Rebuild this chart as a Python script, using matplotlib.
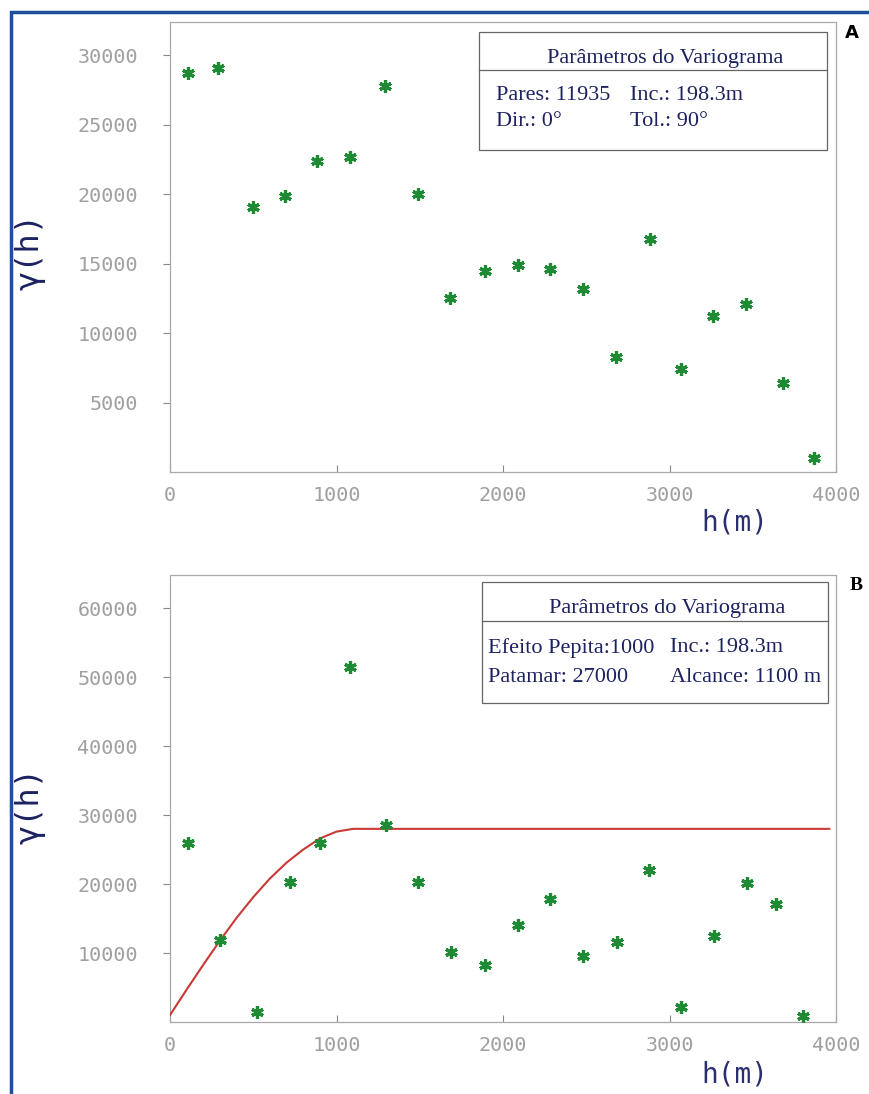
import matplotlib.pyplot as plt
from matplotlib.patches import Rectangle
from matplotlib.lines import Line2D

# experimental variogram, panel A (lag h in m, gamma)
lag_a = [110, 290, 500, 690, 880, 1080, 1290, 1490, 1680, 1890,
         2090, 2280, 2480, 2680, 2880, 3070, 3260, 3460, 3680, 3870]
gamma_a = [28700, 29100, 19100, 19900, 22400, 22700, 27800, 20000, 12500, 14500,
           14900, 14600, 13200, 8300, 16800, 7400, 11200, 12100, 6400, 1000]

# experimental variogram, panel B
lag_b = [110, 300, 520, 720, 900, 1080, 1295, 1490, 1685, 1890,
         2090, 2285, 2480, 2685, 2875, 3070, 3265, 3465, 3640, 3800]
gamma_b = [26000, 11900, 1400, 20300, 25900, 51500, 28600, 20300, 10100, 8200,
           14100, 17800, 9500, 11600, 22100, 2200, 12500, 20100, 17100, 800]

# fitted model curve
model_h = [0, 100, 200, 300, 400, 500, 600, 700, 800, 900, 1000, 1100, 3960]
model_gamma = [1000, 4700, 8300, 11800, 15100, 18100, 20800, 23100, 25000, 26600,
               27600, 28000, 28000]

box_a = [("Pares: 11935", "Inc.: 198.3m"), ("Dir.: 0°", "Tol.: 90°")]
box_b = [("Efeito Pepita:1000", "Inc.: 198.3m"), ("Patamar: 27000", "Alcance: 1100 m")]

xticks = [0, 1000, 2000, 3000, 4000]
yticks_a = [5000, 10000, 15000, 20000, 25000, 30000]
yticks_b = [10000, 20000, 30000, 40000, 50000, 60000]

W, H = 869, 1094
NAVY = "#1c2160"
TICK_GRAY = "#a0a0a0"
GREEN = "#1f8a34"
RED = "#c83a36"


def px(x, y):
    # pixel position -> figure fraction
    return x / W, 1 - y / H


def setup_axes(ax, ymax, yticks):
    ax.set_xlim(0, 4000)
    ax.set_ylim(0, ymax)
    ax.set_xticks(xticks)
    ax.set_yticks(yticks)
    ax.set_xticklabels([str(t) for t in xticks])
    ax.set_yticklabels([str(t) for t in yticks])
    for s in ax.spines.values():
        s.set_color("#a8a8a8")
        s.set_linewidth(0.9)
        s.set_linestyle((0, (1, 1)))
    ax.tick_params(axis="y", direction="out", length=5, width=0.8, color="#888888",
                   pad=18, labelsize=14.5, labelcolor=TICK_GRAY)
    ax.tick_params(axis="x", direction="in", length=5, width=0.8, color="#888888",
                   pad=10, labelsize=14.5, labelcolor=TICK_GRAY)
    for lbl in ax.get_xticklabels() + ax.get_yticklabels():
        lbl.set_family("DejaVu Sans Mono")


def param_box(fig, x0, y0, x1, y1, div_y, rows, text_x, col2_x, row_ys, head_y):
    fx0, fy0 = px(x0, y1)
    fx1, fy1 = px(x1, y0)
    fig.add_artist(Rectangle((fx0, fy0), fx1 - fx0, fy1 - fy0, transform=fig.transFigure,
                             facecolor="white", edgecolor="#666666", lw=0.9, zorder=5))
    dx0, dy = px(x0, div_y)
    dx1, _ = px(x1, div_y)
    fig.add_artist(Line2D([dx0, dx1], [dy, dy], transform=fig.transFigure,
                          color="#666666", lw=0.9, zorder=6))
    hx, hy = px((x0 + x1) / 2 + 12, head_y)
    fig.text(hx, hy, "Parâmetros do Variograma", ha="center", va="center",
             family="Liberation Serif", fontsize=16, color=NAVY, zorder=7)
    for (left, right), ry in zip(rows, row_ys):
        lx, ly = px(text_x, ry)
        fig.text(lx, ly, left, ha="left", va="center", family="Liberation Serif",
                 fontsize=16, color=NAVY, zorder=7)
        rx, _ = px(col2_x, ry)
        fig.text(rx, ly, right, ha="left", va="center", family="Liberation Serif",
                 fontsize=16, color=NAVY, zorder=7)


fig = plt.figure(figsize=(W / 100, H / 100), dpi=100)
fig.patch.set_facecolor("white")

# blue outer frame (top and left edges visible)
fig.add_artist(Rectangle((11 / W, -0.02), 1.05, 1 - 12 / H + 0.02, transform=fig.transFigure,
                         facecolor="none", edgecolor="#1d4f9a", lw=2.5))

ax_a = fig.add_axes([170 / W, 1 - 472 / H, 666 / W, 450 / H])
ax_b = fig.add_axes([170 / W, 1 - 1022 / H, 666 / W, 447 / H])

marker = dict(marker=(6, 2, 0), linestyle="none", markersize=9, mew=2.3,
              color=GREEN, zorder=4)

ax_a.plot(lag_a, gamma_a, **marker)
setup_axes(ax_a, 32400, yticks_a)

ax_b.plot(model_h, model_gamma, color=RED, lw=1.5, zorder=3)
ax_b.plot(lag_b, gamma_b, **marker)
setup_axes(ax_b, 64800, yticks_b)

# axis titles
for y_lab, y_h in [(252, 523), (805, 1075)]:
    x, y = px(30, y_lab)
    fig.text(x, y, "γ(h)", rotation=90, ha="center", va="center",
             family="DejaVu Sans Mono", fontsize=23, color=NAVY)
    x, y = px(735, y_h)
    fig.text(x, y, "h(m)", ha="center", va="center",
             family="DejaVu Sans Mono", fontsize=20, color="#2a2f70")

param_box(fig, 479, 32, 827, 150, 70, box_a, 496, 630, [95, 121], 59)
param_box(fig, 482, 582, 828, 703, 621, box_b, 488, 670, [648, 678], 609)

x, y = px(852, 33)
fig.text(x, y, "A", ha="center", va="center", family="DejaVu Sans",
         fontsize=13, fontweight="bold", color="black")
x, y = px(856, 586)
fig.text(x, y, "B", ha="center", va="center", family="Liberation Serif",
         fontsize=14, fontweight="bold", color="black")

fig.savefig("out.png", dpi=100, facecolor="white")
